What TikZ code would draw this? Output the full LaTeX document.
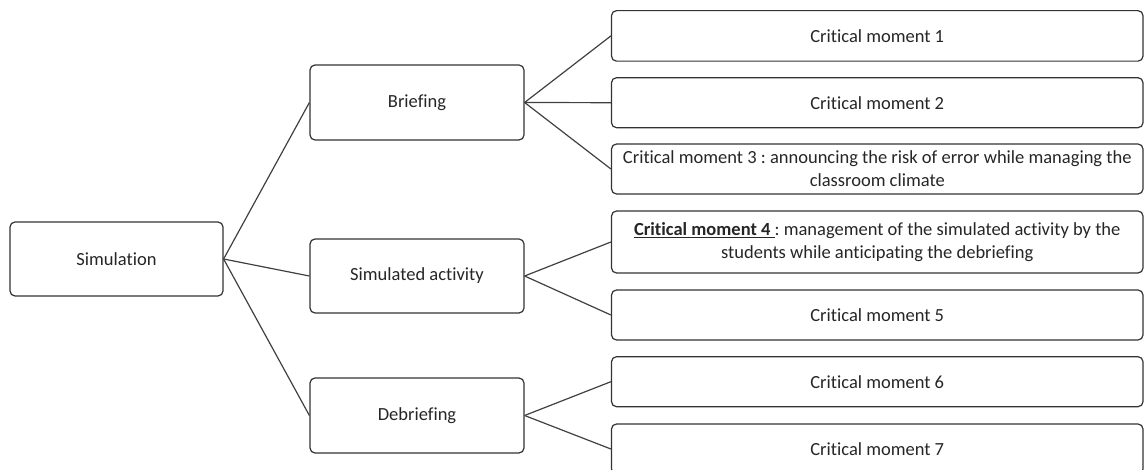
\documentclass[tikz,border=0pt]{standalone}
\usepackage{fontspec}
\setmainfont{Carlito}[Ligatures=NoCommon]
\frenchspacing
\begin{document}
\begin{tikzpicture}[x=1pt,y=-1pt,
  box/.style={draw=black!80,line width=1.2pt,rounded corners=5pt,fill=white,
    inner sep=0pt,align=center,text=black!85,font=\fontsize{18.5}{23}\selectfont},
  link/.style={draw=black!75,line width=1.2pt}]
\useasboundingbox (0,0) rectangle (1144,470);
\clip (0,0) rectangle (1144,470);
% left and middle nodes
\node[box,minimum width=213pt,minimum height=74pt] (sim) at (116.5,259) {Simulation};
\node[box,minimum width=214pt,minimum height=75pt] (bri) at (417,102.5) {Briefing};
\node[box,minimum width=214pt,minimum height=74pt] (act) at (417,276) {Simulated activity};
\node[box,minimum width=214pt,minimum height=75pt] (deb) at (417,415.5) {Debriefing};
% right nodes
\node[box,minimum width=531.5pt,minimum height=50.5pt] (c1) at (877.25,35.9) {Critical moment 1};
\node[box,minimum width=531.5pt,minimum height=50pt] (c2) at (877.25,102.7) {Critical moment 2};
\node[box,minimum width=531.5pt,minimum height=50pt] (c3) at (877.25,169)
  {Critical moment 3 : announcing the risk of error while managing the\\classroom climate};
\node[box,minimum width=531.5pt,minimum height=62pt] (c4) at (877.25,242)
  {\underline{\textbf{Critical moment 4 }}: management of the simulated activity by the\\students while anticipating the debriefing};
\node[box,minimum width=531.5pt,minimum height=50pt] (c5) at (877.25,315) {Critical moment 5};
\node[box,minimum width=531.5pt,minimum height=50pt] (c6) at (877.25,381.7) {Critical moment 6};
\node[box,minimum width=531.5pt,minimum height=50pt] (c7) at (877.25,449) {Critical moment 7};
% connectors
\draw[link] (sim.east) -- (bri.west);
\draw[link] (sim.east) -- (act.west);
\draw[link] (sim.east) -- (deb.west);
\draw[link] (bri.east) -- (c1.west);
\draw[link] (bri.east) -- (c2.west);
\draw[link] (bri.east) -- (c3.west);
\draw[link] (act.east) -- (c4.west);
\draw[link] (act.east) -- (c5.west);
\draw[link] (deb.east) -- (c6.west);
\draw[link] (deb.east) -- (c7.west);
\end{tikzpicture}
\end{document}
